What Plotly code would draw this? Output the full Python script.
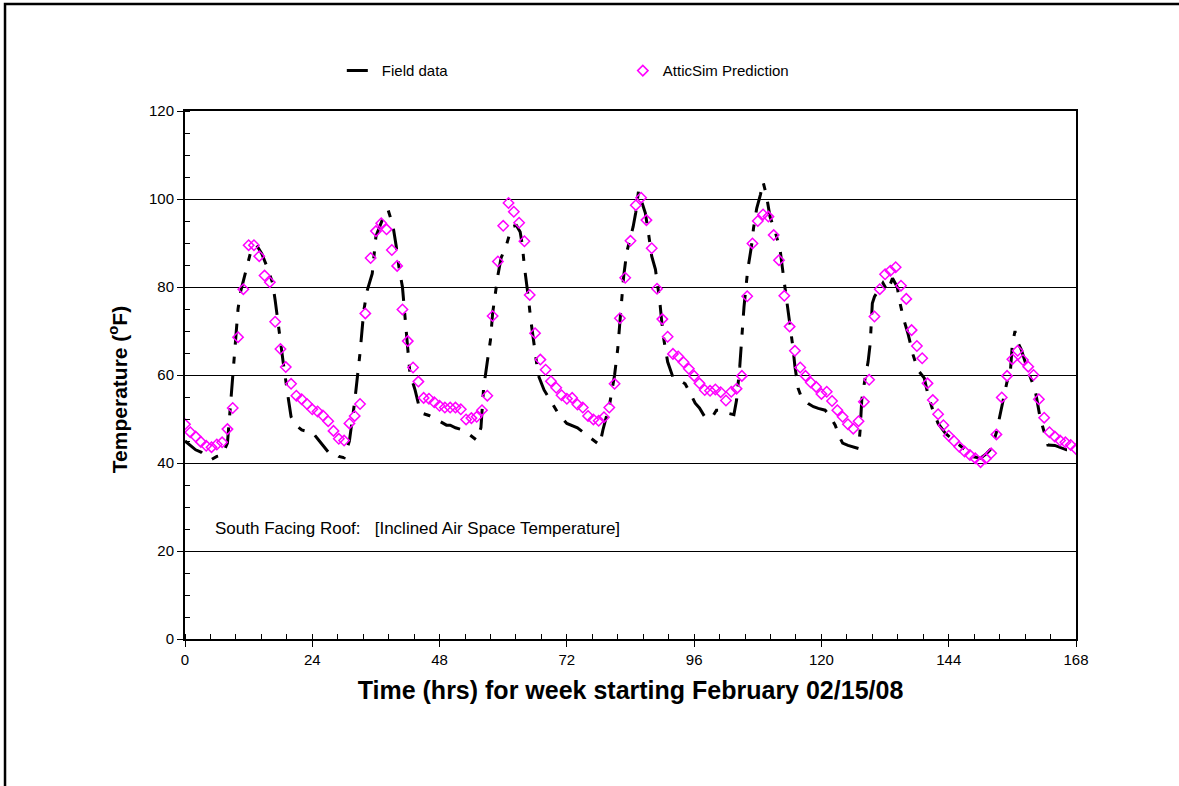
import plotly.graph_objects as go

# AtticSim prediction: hourly values, hours 0..168
sim_hours = list(range(169))
sim_temps = [
    48.8, 47.0, 46.0, 44.8, 43.9, 43.6, 44.2, 44.7, 47.7, 52.5,
    68.6, 79.5, 89.5, 89.5, 87.0, 82.6, 81.1, 72.1, 65.9, 61.8,
    58.0, 55.3, 54.5, 53.4, 52.2, 51.7, 50.8, 49.5, 47.3, 45.5,
    45.1, 49.0, 50.7, 53.4, 74.0, 86.6, 92.7, 94.5, 93.1, 88.4,
    84.8, 74.9, 67.7, 61.7, 58.5, 54.8, 54.6, 53.8, 53.0, 52.6,
    52.6, 52.6, 52.2, 49.9, 50.2, 50.5, 52.0, 55.3, 73.4, 85.8,
    93.9, 99.1, 97.1, 94.6, 90.4, 78.2, 69.5, 63.5, 61.2, 58.6,
    57.1, 55.4, 54.6, 54.8, 53.3, 52.6, 50.7, 49.9, 49.6, 50.4,
    52.6, 58.0, 72.9, 82.1, 90.5, 98.6, 100.3, 95.2, 88.8, 79.6,
    72.7, 68.7, 64.8, 64.2, 62.9, 61.4, 59.8, 58.1, 56.6, 56.4,
    56.7, 56.1, 54.2, 56.2, 56.9, 59.8, 77.9, 89.9, 95.0, 96.5,
    96.0, 91.8, 86.1, 78.0, 71.0, 65.5, 61.7, 59.8, 58.3, 57.3,
    55.7, 56.2, 54.1, 52.0, 50.5, 48.8, 47.8, 49.5, 53.9, 58.9,
    73.3, 79.5, 82.9, 83.7, 84.5, 80.3, 77.3, 70.2, 66.6, 63.8,
    58.1, 54.3, 51.1, 48.6, 46.2, 45.0, 43.7, 42.6, 41.8, 41.1,
    40.2, 41.0, 42.2, 46.5, 54.9, 59.8, 63.6, 65.5, 63.4, 61.9,
    60.0, 54.5, 50.3, 47.0, 46.0, 45.1, 44.7, 44.1, 43.2,
]

# Field data (hours, temperature)
field_hours = [
    0, 1, 2, 3, 4, 5, 6, 7, 8, 8.5, 9, 9.5, 10, 10.5, 11, 12, 12.5, 13.5, 14.5, 15.5,
    16.5, 17, 17.5, 18, 18.5, 19.5, 20, 21, 22, 23, 24, 25, 26, 27, 28, 29, 30, 31, 32, 33,
    33.7, 34.3, 35.3, 36, 36.8, 37.7, 38.3, 39.2, 39.8, 40.4, 41, 41.5, 42, 42.4, 43.4, 44.3,
    45, 46, 47, 48, 49.3, 50, 51, 52.4, 53.7, 55, 55.8, 56.3, 57, 57.6, 58, 58.5, 59, 59.6,
    60.6, 61.6, 62.5, 63.2, 63.6, 64, 64.4, 64.8, 65.2, 65.6, 66, 66.6, 67.7, 69.4, 70.5, 72,
    74, 75.7, 77, 78.2, 78.8, 80.1, 81, 81.6, 82, 82.4, 82.7, 83.3, 84, 84.5, 85, 85.5, 85.8,
    86.8, 87.3, 88, 88.7, 89.5, 89.9, 90.3, 91, 92, 93, 94.3, 95.2, 96.2, 97, 98, 99.3, 100.2,
    100.9, 102, 103.5, 104, 104.6, 105, 105.4, 106.1, 106.8, 107.2, 107.8, 108.5, 109, 109.6,
    110.3, 111.3, 112.2, 113, 113.5, 114, 114.6, 115, 115.6, 116.3, 117.5, 118.5, 119.4, 120.7,
    121.7, 122.6, 123.5, 124, 125, 126, 127, 127.3, 127.6, 128.2, 128.8, 129.2, 129.6, 130,
    130.8, 131.6, 132.5, 133.4, 134.3, 134.7, 135.5, 136.3, 137.3, 138.2, 139.4, 140, 141, 142,
    143.4, 144.5, 146, 147.6, 148.7, 150, 151, 151.8, 152.4, 153, 154, 155, 155.6, 156, 156.5,
    156.8, 157.7, 158.9, 160.3, 161.2, 161.8, 162.7, 164, 165, 166.2, 167, 168,
]
field_temps = [
    45.0, 44.0, 43.0, 42.5, 41.5, 40.8, 41.5, 41.8, 44.5, 52, 60, 68, 75, 79, 81.5, 86.5, 88.5, 89.5, 87.5, 84.5,
    81, 77, 72, 67.5, 63, 54.5, 50.5, 48.5, 47.5, 47.2, 47, 45.5, 44, 42.5, 42.5, 41.5, 41.2, 45, 54, 65,
    74.5, 79, 83, 91.5, 94, 96.8, 97.5, 94, 89.5, 84, 80, 72, 66, 60.5, 56.5, 52,
    51.2, 50.8, 50.2, 49.5, 48.6, 48.6, 48, 47.5, 46.4, 45.2, 48, 57, 63, 68, 74, 79, 82.7, 86.6,
    89.5, 93.7, 94, 92.5, 89.5, 84.6, 81, 77, 72.5, 68.7, 64.5, 60, 56.6, 53.2, 51, 49,
    48, 46.4, 45.2, 44.1, 47.5, 53.6, 60, 66, 72, 79, 82.3, 88, 91.4, 93.7, 97, 101.7, 100.5,
    96.8, 93, 87, 84, 77, 72, 68, 63, 59.5, 59, 58, 56, 53.6, 52.5, 50.5, 50.2, 52,
    52, 51.4, 51, 54.3, 61.9, 68, 75.5, 83.9, 89.2, 93.4, 97.9, 101, 103.9, 101,
    96, 92.5, 88.5, 81, 77, 72, 66.5, 62, 57, 54.7, 53.5, 52.8, 52.4, 52,
    50.5, 48.6, 45.7, 44.5, 44, 43.7, 43.3, 47.5, 54.3, 59, 63, 67.2, 76.3, 77.8,
    79.5, 80.9, 79, 82, 80, 77, 72.7, 69.5, 64.5, 61.1, 59.3, 56, 52, 49,
    46.7, 45.6, 44, 42.6, 41.4, 41.1, 42, 43, 44.5, 47, 53, 58.5, 60.4, 67, 70,
    68, 65.7, 61.1, 56.6, 50.5, 47.9, 44.1, 44, 43.5, 43, 43, 43.2,
]

x_ticks = [0, 24, 48, 72, 96, 120, 144, 168]
y_ticks = [0, 20, 40, 60, 80, 100, 120]

FONT = "Arial, 'Liberation Sans', sans-serif"

fig = go.Figure()
fig.add_trace(go.Scatter(
    x=field_hours, y=field_temps, mode="lines", name="Field data",
    line=dict(color="black", width=3, dash="21px,12px,7px,12px"),
))
fig.add_trace(go.Scatter(
    x=sim_hours, y=sim_temps, mode="markers", name="AtticSim Prediction",
    marker=dict(symbol="diamond-open", size=8, color="#FF00FF", line=dict(width=1.5, color="#FF00FF")),
))

fig.add_annotation(
    x=0.031, y=0.21, xref="paper", yref="paper", xanchor="left", yanchor="middle",
    text="South Facing Roof:   [Inclined Air Space Temperature]", showarrow=False,
    font=dict(family=FONT, size=17, color="black"),
)

# y-axis title
fig.add_annotation(
    x=-0.075, y=0.4716, xref="paper", yref="paper", xanchor="center", yanchor="middle",
    text="<b>Temperature (<sup>o</sup>F)</b>", textangle=-90, showarrow=False,
    font=dict(family=FONT, size=21, color="black"),
)

# outer frame
fig.add_shape(type="rect", xref="paper", yref="paper",
              x0=-0.202, x1=1.15, y0=-0.35, y1=1.2027,
              line=dict(color="black", width=2.5), fillcolor="rgba(0,0,0,0)", layer="below")

fig.update_layout(
    width=1179, height=786,
    margin=dict(l=185, r=103, t=111, b=147),
    paper_bgcolor="white", plot_bgcolor="white",
    font=dict(family=FONT, size=15, color="black"),
    showlegend=True,
    legend=dict(orientation="h", x=0.176, y=1.076, xanchor="left", yanchor="middle",
                entrywidth=236, entrywidthmode="pixels",
                font=dict(family=FONT, size=15, color="black"), bgcolor="rgba(0,0,0,0)"),
    xaxis=dict(
        range=[0, 168], tickmode="array", tickvals=x_ticks, ticktext=[str(v) for v in x_ticks],
        ticks="outside", ticklen=6, tickwidth=1, tickcolor="black",
        minor=dict(tickmode="linear", tick0=0, dtick=4.8, ticks="inside", ticklen=5, tickwidth=1, tickcolor="black"),
        showline=True, linecolor="black", linewidth=2, mirror=True,
        showgrid=False, zeroline=False,
        tickfont=dict(family=FONT, size=15, color="black"),
        title=dict(text="<b>Time (hrs) for week starting February 02/15/08</b>",
                   font=dict(family=FONT, size=25, color="black"), standoff=14),
    ),
    yaxis=dict(
        range=[0, 120], tickmode="array", tickvals=y_ticks, ticktext=[str(v) for v in y_ticks],
        ticks="outside", ticklen=6, tickwidth=1, tickcolor="black",
        minor=dict(tickmode="linear", tick0=0, dtick=5, ticks="inside", ticklen=5, tickwidth=1, tickcolor="black"),
        showline=True, linecolor="black", linewidth=2, mirror=True,
        showgrid=True, gridcolor="black", gridwidth=1, zeroline=False,
        tickfont=dict(family=FONT, size=15, color="black"),
    ),
)

fig.write_html("out.html", config={"displayModeBar": False},
               post_script="document.body.style.margin='0';")
